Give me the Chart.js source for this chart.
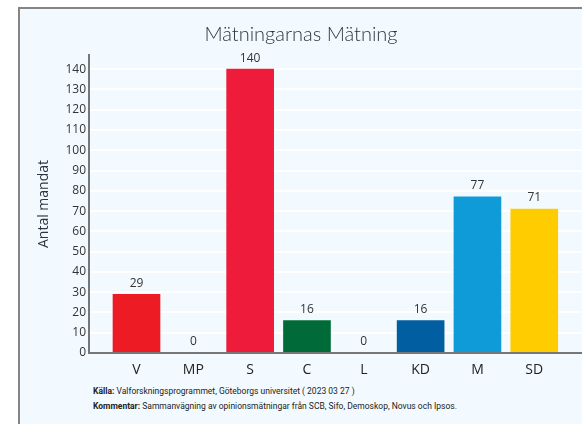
<!DOCTYPE html>
<html>
<head>
<meta charset="utf-8">
<script src="https://cdn.jsdelivr.net/npm/chart.js@4"></script>
<style>
  html, body { margin: 0; padding: 0; background: #ffffff; }
  body { width: 582px; height: 424px; overflow: hidden; position: relative; }
  #panel {
    position: absolute; left: 18px; top: 7px; width: 600px; height: 440px;
    background: #f3faff; border-top: 2px solid #858585; border-left: 2px solid #858585;
  }
  #wrap { position: absolute; left: 20px; top: 9px; width: 562px; height: 376px; }
  .note {
    position: absolute; left: 93px; font-family: Roboto, sans-serif; font-size: 8.5px;
    color: #222; white-space: nowrap;
  }
  .note b { font-weight: 700; }
</style>
</head>
<body>
<div id="panel"></div>
<div id="wrap"><canvas id="chart"></canvas></div>
<div class="note" style="top:386px"><b>Källa:</b> Valforskningsprogrammet, Göteborgs universitet ( 2023 03 27 )</div>
<div class="note" style="top:401px"><b>Kommentar:</b> Sammanvägning av opinionsmätningar från SCB, Sifo, Demoskop, Novus och Ipsos.</div>
<script>
const parties = ['V', 'MP', 'S', 'C', 'L', 'KD', 'M', 'SD'];
const seats = [29, 0, 140, 16, 0, 16, 77, 71];
const partyColors = ['#ed1c24', '#83cf39', '#ee1b3a', '#006b39', '#006ab3', '#005ea1', '#0f9bd8', '#ffcc00'];
const yTicks = [0, 10, 20, 30, 40, 50, 60, 70, 80, 90, 100, 110, 120, 130, 140];

// numbers above each bar
const valueLabels = {
  id: 'valueLabels',
  afterDatasetsDraw(chart) {
    const ctx = chart.ctx;
    const meta = chart.getDatasetMeta(0);
    ctx.save();
    ctx.font = '12px "Open Sans", sans-serif';
    ctx.fillStyle = '#333';
    ctx.textAlign = 'center';
    ctx.textBaseline = 'bottom';
    meta.data.forEach((bar, i) => {
      ctx.fillText(String(seats[i]), bar.x, bar.y - 5);
    });
    ctx.restore();
  }
};

new Chart(document.getElementById('chart'), {
  type: 'bar',
  data: {
    datasets: [{
      data: parties.map((p, i) => ({ x: i, y: seats[i] })),
      backgroundColor: partyColors,
      barThickness: 47
    }]
  },
  options: {
    responsive: true,
    maintainAspectRatio: false,
    animation: false,
    layout: { padding: { top: 14, left: 0, right: 0, bottom: 0 } },
    plugins: {
      legend: { display: false },
      tooltip: { enabled: false },
      title: {
        display: true,
        text: 'Mätningarnas Mätning',
        color: '#2b3440',
        font: { family: 'Lato, sans-serif', size: 20, weight: '300' },
        padding: { top: 0, bottom: 8 }
      }
    },
    scales: {
      x: {
        type: 'linear',
        offset: false,
        min: -0.836,
        max: 7.84,
        afterBuildTicks(scale) {
          scale.ticks = parties.map((p, i) => ({ value: i }));
        },
        afterFit(scale) { scale.height = 32; },
        grid: { display: false },
        border: { color: '#777', width: 2, z: 1 },
        ticks: {
          color: '#222',
          padding: 1,
          font: { family: '"Open Sans", sans-serif', size: 14 },
          callback: v => parties[v]
        }
      },
      y: {
        min: 0,
        max: 147,
        afterBuildTicks(scale) {
          scale.ticks = yTicks.map(v => ({ value: v }));
        },
        afterFit(scale) { scale.width = 69; },
        grid: { color: '#ffffff', lineWidth: 2, drawTicks: false },
        border: { color: '#777', width: 2, z: 1 },
        ticks: {
          color: '#333',
          padding: 3,
          font: { family: '"Open Sans", sans-serif', size: 12 }
        },
        title: {
          display: true,
          text: 'Antal mandat',
          color: '#2b3440',
          font: { family: '"Open Sans", sans-serif', size: 14 },
          padding: { top: 16, bottom: 0 }
        }
      }
    }
  },
  plugins: [valueLabels]
});
</script>
</body>
</html>
